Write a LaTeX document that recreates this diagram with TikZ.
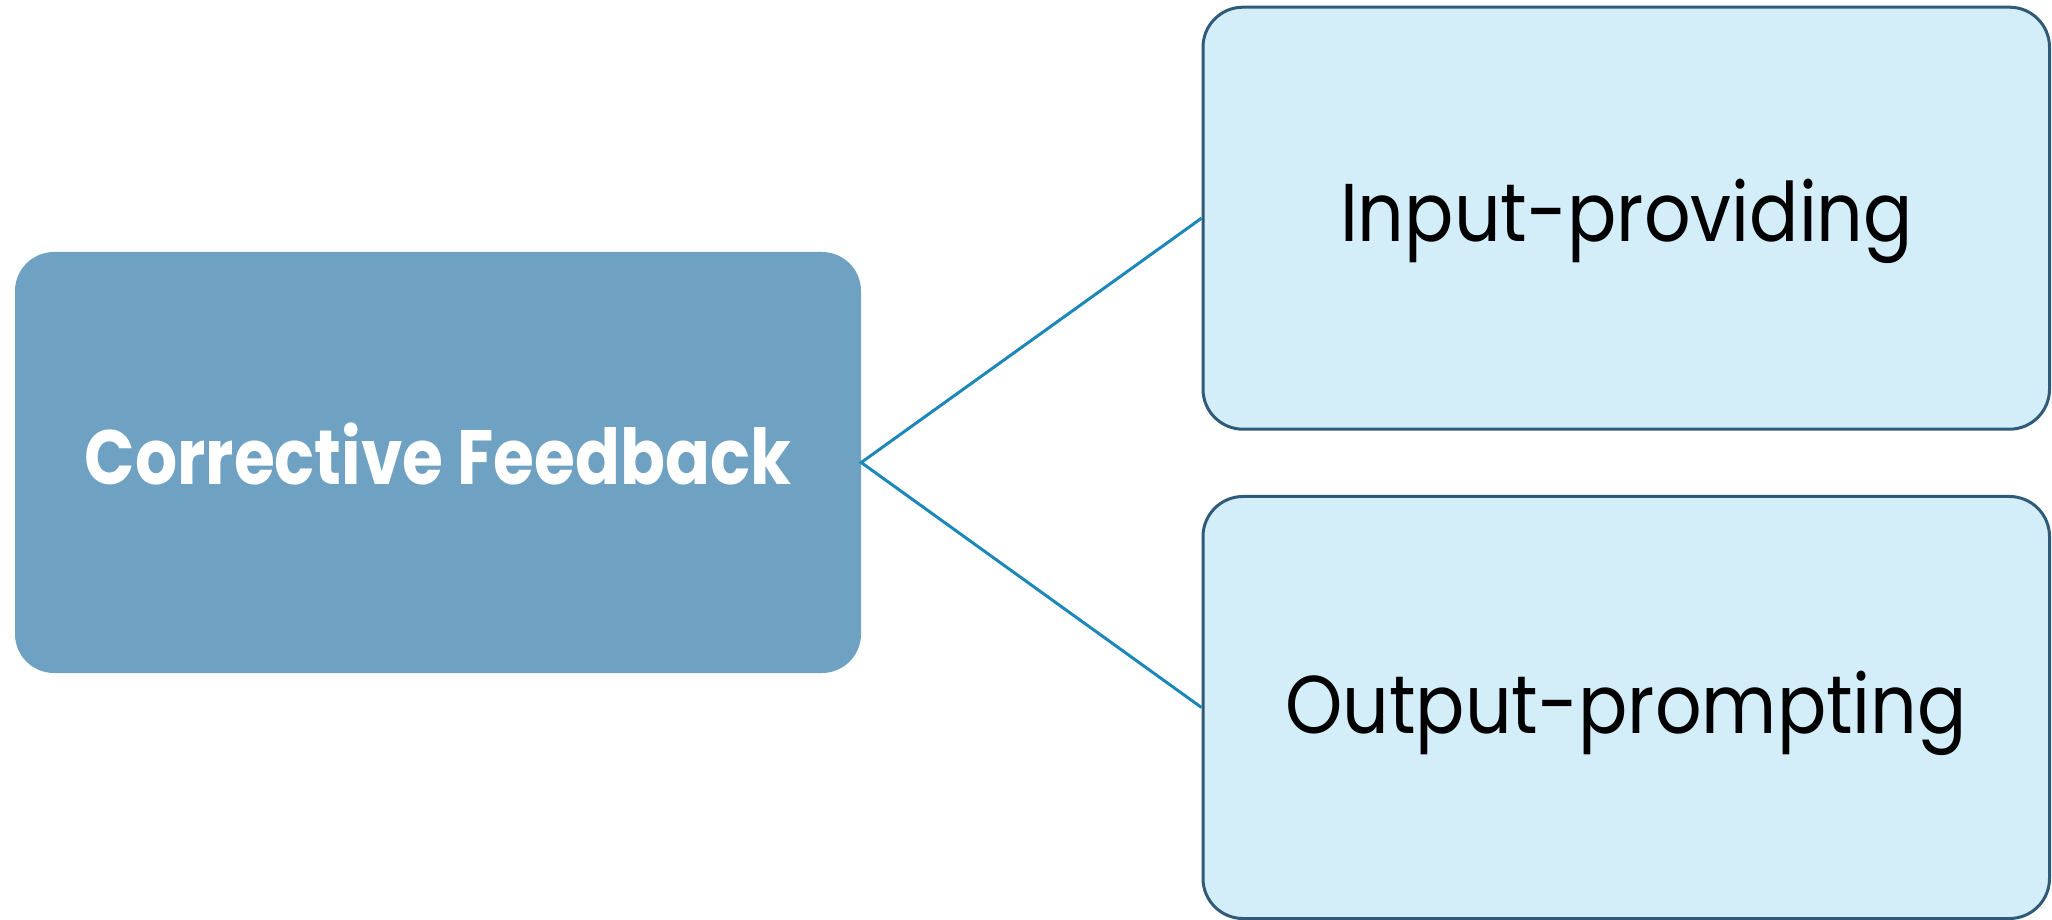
\documentclass[tikz,border=0pt]{standalone}
\usepackage{fontspec}
\newfontfamily\pop{Poppins}
\definecolor{mainfill}{HTML}{6FA1C2}
\definecolor{subfill}{HTML}{D3EEF9}
\definecolor{subdraw}{HTML}{2F5B78}
\definecolor{linkcol}{HTML}{1C88BA}
\newcommand{\mainlabel}[1]{\scalebox{0.86}[1]{#1}}
\newcommand{\sublabel}[1]{\scalebox{0.89}[1]{#1}}
\tikzset{
  mainbox/.style={fill=mainfill, rounded corners=39pt, minimum width=846pt, minimum height=421pt, inner sep=0pt},
  subbox/.style={fill=subfill, draw=subdraw, line width=3pt, rounded corners=40pt, minimum width=846.5pt, minimum height=422pt, inner sep=0pt},
  link/.style={draw=linkcol, line width=3pt},
  maintext/.style={text=white, font=\pop\bfseries\fontsize{77}{90}\selectfont},
  subtext/.style={text=black, font=\pop\fontsize{82}{96}\selectfont}
}
\begin{document}
\begin{tikzpicture}[x=1pt,y=1pt]
\useasboundingbox (0,0) rectangle (2052,919);
\node[mainbox] (main) at (438,456.5) {};
\node[subbox] (top) at (1626.25,700.8) {};
\node[subbox] (bot) at (1626.25,211.5) {};
\node[maintext, anchor=base] (mt) at (438,434) {\mainlabel{Corrective Feedback}};
\node[subtext, anchor=base] (tt) at (1626.5,677) {\sublabel{Input-providing}};
\node[subtext, anchor=base] (bt) at (1626,186) {\sublabel{Output-prompting}};
\draw[link] (top.west) -- (main.east) -- (bot.west);
\end{tikzpicture}
\end{document}
